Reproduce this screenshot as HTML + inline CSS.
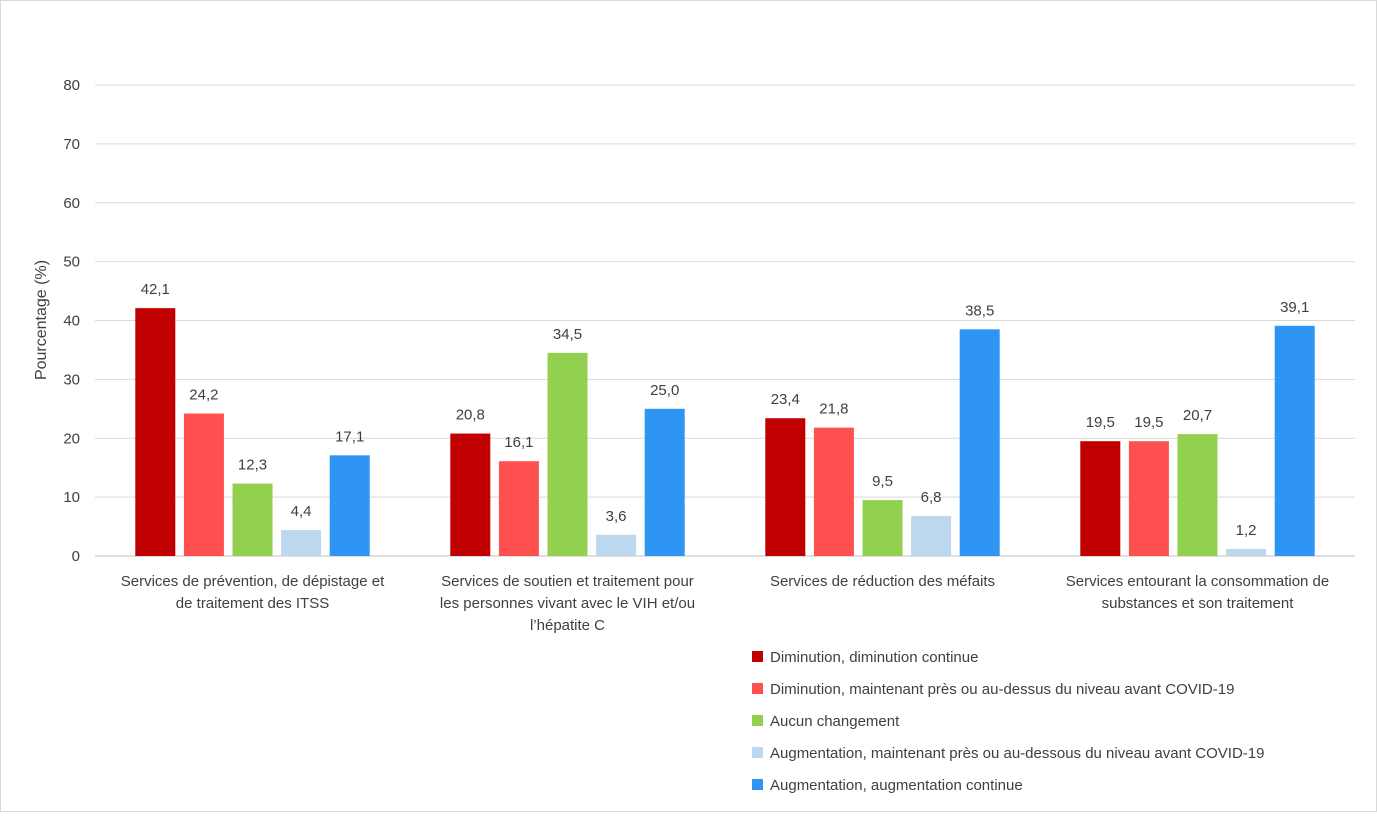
<!DOCTYPE html>
<html><head><meta charset="utf-8"><style>
body{margin:0;background:#fff;}
svg text{font-family:"Liberation Sans",Arial,sans-serif;fill:#404040;}
</style></head><body>
<svg id="chart" width="1377" height="812" xmlns="http://www.w3.org/2000/svg">
<rect x="0.5" y="0.5" width="1376" height="811" fill="#fff" stroke="#d9d9d9"/>
<g id="grid"></g><g id="bars"></g><g id="labels"></g><g id="legend"></g>
<text x="46" y="320" font-size="16" text-anchor="middle" transform="rotate(-90 46 320)">Pourcentage (%)</text>
</svg>
<script>
const categories=[["Services de prévention, de dépistage et","de traitement des ITSS"],["Services de soutien et traitement pour","les personnes vivant avec le VIH et/ou","l’hépatite C"],["Services de réduction des méfaits"],["Services entourant la consommation de","substances et son traitement"]];
const seriesNames=["Diminution, diminution continue","Diminution, maintenant près ou au-dessus du niveau avant COVID-19","Aucun changement","Augmentation, maintenant près ou au-dessous du niveau avant COVID-19","Augmentation, augmentation continue"];
const s1=[42.1,20.8,23.4,19.5];
const s2=[24.2,16.1,21.8,19.5];
const s3=[12.3,34.5,9.5,20.7];
const s4=[4.4,3.6,6.8,1.2];
const s5=[17.1,25.0,38.5,39.1];
const yTicks=[0,10,20,30,40,50,60,70,80];
const series=[s1,s2,s3,s4,s5];
const colors=["#C00000","#FF5050","#92D050","#BDD7EE","#2E95F5"];
const NS="http://www.w3.org/2000/svg";
const x0=95,x1=1355,y0=556,yTop=85,yMax=80;
const y=v=>y0-(v/yMax)*(y0-yTop);
const gw=(x1-x0)/categories.length;
const bx=(g,s)=>x0+gw*(g+0.5)+(s-2)*48.6;
function mk(tag,attrs,parent,txt){const e=document.createElementNS(NS,tag);for(const k in attrs)e.setAttribute(k,attrs[k]);if(txt!==undefined)e.textContent=txt;parent.appendChild(e);return e;}
const grid=document.getElementById('grid'),bars=document.getElementById('bars'),labels=document.getElementById('labels'),legend=document.getElementById('legend');
yTicks.forEach(t=>{
 const l=mk('line',{x1:x0,x2:x1,y1:y(t),y2:y(t),stroke:t===0?'#bfbfbf':'#d9d9d9','stroke-width':1},grid);
 
 
 const tx=mk('text',{x:80,y:y(t)+5,'font-size':15,'text-anchor':'end',fill:'#595959'},grid,String(t));
 
 
});
series.forEach((arr,s)=>arr.forEach((v,g)=>{
 const cx=bx(g,s);
 const r=mk('rect',{x:cx-20,y:y(v),width:40,height:y0-y(v),fill:colors[s]},bars);
 
 
 const t=mk('text',{x:cx,y:y(v)-14,'font-size':15,'text-anchor':'middle'},labels,v.toFixed(1).replace('.',','));
 
 
}));
categories.forEach((lines,g)=>{
 const t=mk('text',{x:x0+gw*(g+0.5),y:586,'font-size':15,'text-anchor':'middle'},labels);
 
 
 lines.forEach((ln,i)=>mk('tspan',{x:x0+gw*(g+0.5),dy:i?22:0},t,ln));
});
seriesNames.forEach((n,i)=>{
 const yy=656+i*32;
 const g=mk('g',{},legend);
 
 
 mk('rect',{x:752,y:yy-5,width:11,height:11,fill:colors[i]},g);
 mk('text',{x:770,y:yy+6,'font-size':15},g,n);
});
</script>
</body></html>
